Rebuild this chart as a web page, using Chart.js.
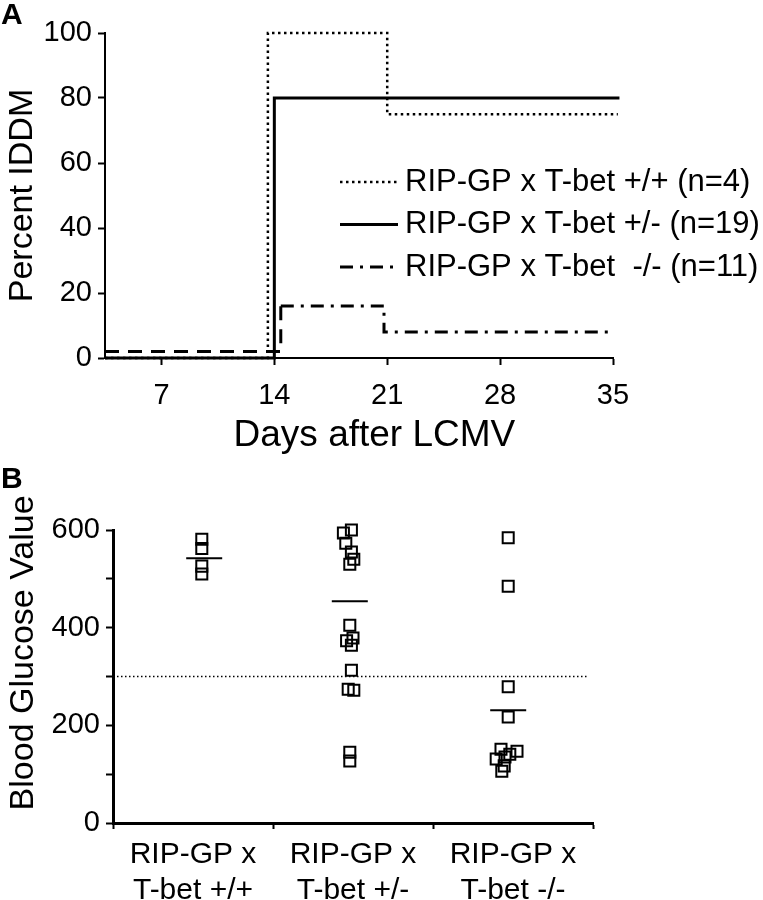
<!DOCTYPE html>
<html>
<head>
<meta charset="utf-8">
<title>IDDM and blood glucose</title>
<script src="https://cdn.jsdelivr.net/npm/chart.js@4/dist/chart.umd.min.js"></script>
<style>
  body { margin: 0; background: #fff; }
  #wrap { position: relative; width: 763px; height: 900px; overflow: hidden; }
  .panel { position: absolute; left: 0; width: 763px; }
  .tag { position: absolute; left: 1px; font: bold 30px "Liberation Sans", Arial, sans-serif; line-height: 1; }
</style>
</head>
<body>
<div id="wrap">
  <div class="panel" style="top:0;height:460px"><canvas id="chartA"></canvas></div>
  <div class="panel" style="top:450px;height:450px"><canvas id="chartB"></canvas></div>
  <div class="tag" style="top:-1px">A</div>
  <div class="tag" style="top:463px">B</div>
</div>
<script>
// ---- Panel A: percent IDDM after LCMV (step curves) ----
const dayTicks = [7, 14, 21, 28, 35];
const seriesLabels = ['RIP-GP x T-bet +/+ (n=4)', 'RIP-GP x T-bet +/- (n=19)', 'RIP-GP x T-bet  -/- (n=11)'];
const wtDays = [3.5, 13.6, 21, 35.3];
const wtPct = [0, 100, 75, 75];
const hetDays = [3.5, 14, 35.4];
const hetPct = [0, 80, 80];
const koDays = [3.5, 14.4, 20.8, 35];
const koPct = [2, 16, 8, 8];

// ---- Panel B: blood glucose per group ----
const groupLabels = [['RIP-GP x', 'T-bet +/+'], ['RIP-GP x', 'T-bet +/-'], ['RIP-GP x', 'T-bet -/-']];
const glucoseWT = [581, 562, 526, 510];
const jitterWT = [0.055, 0.055, 0.055, 0.055];
const glucoseHet = [600, 594, 573, 555, 540, 530, 405, 379, 373, 364, 313, 274, 272, 145, 127];
const jitterHet = [-0.01, -0.06, -0.045, -0.01, 0.005, -0.02, -0.02, 0, -0.04, -0.01, -0.01, -0.03, 0.005, -0.02, -0.02];
const glucoseKO = [584, 485, 279, 217, 151, 147, 141, 131, 135, 117, 106];
const jitterKO = [-0.03, -0.03, -0.03, -0.03, -0.075, 0.025, -0.02, -0.105, -0.05, -0.055, -0.07];
const groupMeans = [542, 454, 231];
const meanJitter = [0.07, -0.02, -0.03];
const threshold = 300;

Chart.defaults.font.family = '"Liberation Sans", Arial, sans-serif';
Chart.defaults.color = '#000';

const toXY = (xs, ys) => xs.map((x, i) => ({ x: x, y: ys[i] }));
const dashDot = [13, 7, 3, 7];

// legend drawn inside the plot, line sample + label
const lineLegend = {
  id: 'lineLegend',
  afterDraw(chart) {
    const ctx = chart.ctx;
    ctx.save();
    ctx.font = '31px "Liberation Sans", Arial, sans-serif';
    ctx.fillStyle = '#000';
    ctx.textBaseline = 'middle';
    chart.data.datasets.forEach((ds, i) => {
      const y = 182 + i * 42.5;
      ctx.beginPath();
      ctx.setLineDash(ds.borderDash || []);
      ctx.lineWidth = ds.borderWidth;
      ctx.strokeStyle = ds.borderColor;
      ctx.moveTo(340, y);
      ctx.lineTo(398, y);
      ctx.stroke();
      ctx.setLineDash([]);
      ctx.fillText(ds.label, 405, y);
    });
    ctx.restore();
  }
};

new Chart(document.getElementById('chartA'), {
  type: 'line',
  data: {
    datasets: [
      { label: seriesLabels[0], data: toXY(wtDays, wtPct), stepped: true, borderColor: '#000',
        borderWidth: 2.5, borderDash: [2.5, 3.5], pointRadius: 0, fill: false, clip: false },
      { label: seriesLabels[1], data: toXY(hetDays, hetPct), stepped: true, borderColor: '#000',
        borderWidth: 3, pointRadius: 0, fill: false, clip: false },
      { label: seriesLabels[2], data: toXY(koDays, koPct), stepped: true, borderColor: '#000',
        borderWidth: 3, borderDash: dashDot, pointRadius: 0, fill: false,
        segment: { borderDash: c => c.p0DataIndex === 0 ? [14, 9] : undefined } }
    ]
  },
  options: {
    animation: false,
    responsive: true,
    maintainAspectRatio: false,
    layout: { padding: { top: 33, right: 150, left: 0, bottom: 0 } },
    plugins: { legend: { display: false }, tooltip: { enabled: false } },
    scales: {
      x: {
        type: 'linear', min: 3.5, max: 35,
        afterBuildTicks: s => { s.ticks = dayTicks.map(v => ({ value: v })); },
        afterFit: s => { s.height = 102; },
        border: { color: '#000', width: 2 },
        grid: { drawOnChartArea: false, tickLength: 7, tickWidth: 2, tickColor: '#000' },
        ticks: { font: { size: 29 }, padding: 14, maxRotation: 0 },
        title: { display: true, text: '   Days after LCMV', font: { size: 37 }, padding: { top: 2, bottom: 2 } }
      },
      y: {
        min: 0, max: 100,
        ticks: { stepSize: 20, font: { size: 29 }, padding: 6 },
        afterFit: s => { s.width = 105; },
        border: { color: '#000', width: 2 },
        grid: { drawOnChartArea: false, tickLength: 7, tickWidth: 2, tickColor: '#000' },
        title: { display: true, text: 'Percent IDDM', font: { size: 34 }, padding: { top: 2, bottom: 2 } }
      }
    }
  },
  plugins: [lineLegend]
});

// points per group: x = group center + jitter
const groupPoints = (vals, jit, g) => vals.map((v, i) => ({ x: g + 0.5 + jit[i], y: v }));
const glucosePoints = [].concat(
  groupPoints(glucoseWT, jitterWT, 0),
  groupPoints(glucoseHet, jitterHet, 1),
  groupPoints(glucoseKO, jitterKO, 2)
);
const meanPoints = groupMeans.map((m, g) => ({ x: g + 0.5 + meanJitter[g], y: m }));

new Chart(document.getElementById('chartB'), {
  type: 'scatter',
  data: {
    datasets: [
      { data: glucosePoints, pointStyle: 'rect', pointRadius: 7.8, borderWidth: 2,
        borderColor: '#000', backgroundColor: 'rgba(0,0,0,0)', clip: false },
      { data: meanPoints, pointStyle: 'line', pointRadius: 18, borderWidth: 2, borderColor: '#000' },
      { type: 'line', data: [{ x: 0, y: threshold }, { x: 2.96, y: threshold }], borderColor: '#000',
        borderWidth: 1.5, borderDash: [1.5, 2.5], pointRadius: 0, fill: false }
    ]
  },
  options: {
    animation: false,
    responsive: true,
    maintainAspectRatio: false,
    layout: { padding: { top: 80, right: 170, left: 0, bottom: 0 } },
    plugins: { legend: { display: false }, tooltip: { enabled: false } },
    scales: {
      x: {
        type: 'linear', min: 0, max: 3,
        afterBuildTicks: s => { s.ticks = [0, 0.5, 1, 1.5, 2, 2.5, 3].map(v => ({ value: v })); },
        afterFit: s => { s.height = 77; },
        border: { color: '#000', width: 3 },
        grid: { drawOnChartArea: false, tickLength: 6, tickWidth: 2,
                tickColor: c => Number.isInteger(c.tick.value) ? '#000' : 'rgba(0,0,0,0)' },
        ticks: { autoSkip: false, maxRotation: 0, padding: 8, font: { size: 30 }, lineHeight: 1.2,
                 callback: v => Number.isInteger(v) ? '' : groupLabels[Math.floor(v)] }
      },
      y: {
        min: 0, max: 600,
        afterBuildTicks: s => { s.ticks = [0, 100, 200, 300, 400, 500, 600].map(v => ({ value: v })); },
        afterFit: s => { s.width = 113; },
        border: { color: '#000', width: 3 },
        grid: { drawOnChartArea: false, tickLength: 7, tickWidth: 2, tickColor: '#000' },
        ticks: { font: { size: 29 }, padding: 6, callback: v => v % 200 === 0 ? v : '' },
        title: { display: true, text: '     Blood Glucose Value', font: { size: 34 }, padding: { top: 3, bottom: 3 } }
      }
    }
  }
});
</script>
</body>
</html>
